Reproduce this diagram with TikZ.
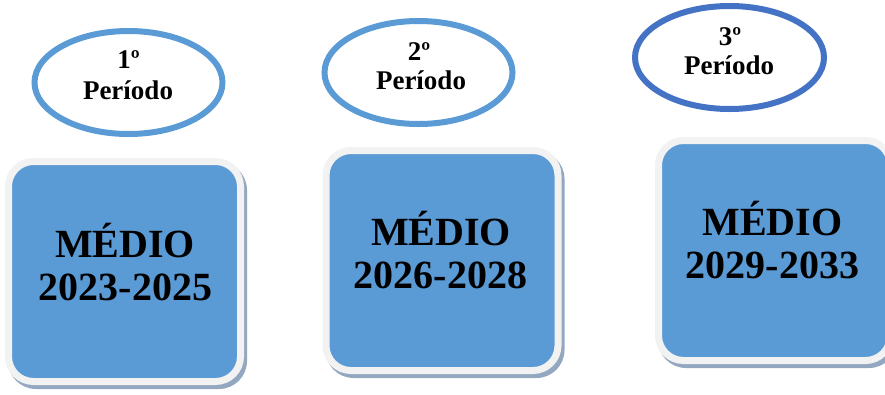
\documentclass[tikz,border=0pt]{standalone}
\usepackage{fontspec}
\setmainfont{Liberation Serif}
\usetikzlibrary{shapes.geometric}
\definecolor{ringA}{HTML}{5B9BD5}
\definecolor{ringB}{HTML}{4472C4}
\definecolor{boxblue}{HTML}{5B9BD5}
\definecolor{boxrim}{HTML}{F2F2F2}
\definecolor{shadowc}{HTML}{93A8C0}
\tikzset{
  ring/.style={ellipse, draw=#1, line width=6pt, fill=white, minimum width=188pt, minimum height=103pt, inner sep=0pt},
  blk/.style={rectangle, rounded corners=25pt, fill=boxblue, draw=boxrim, line width=7pt, minimum width=232pt, minimum height=220pt, inner sep=0pt},
  shd/.style={rectangle, rounded corners=28pt, fill=shadowc, minimum width=239pt, minimum height=227pt, inner sep=0pt},
  lbl/.style={anchor=base, inner sep=0pt, font=\bfseries\fontsize{27}{31}\selectfont},
  big/.style={anchor=base, inner sep=0pt, font=\bfseries\fontsize{40}{44}\selectfont}
}
\begin{document}
\begin{tikzpicture}[x=1pt,y=-1pt]
\useasboundingbox (0,0) rectangle (885,394);
\clip (0,0) rectangle (885,394);
% ellipses
\node[ring=ringA] (e1) at (128.5,82.5) {};
\node[ring=ringA] (e2) at (418.5,72.5) {};
\node[ring=ringB, minimum width=189pt] (e3) at (729.5,57.5) {};
\node[lbl] (n1) at (128.5,68) {1º};
\node[lbl] (p1) at (128,99) {Período};
\node[lbl] (n2) at (419,60) {2º};
\node[lbl] (p2) at (421,89) {Período};
\node[lbl] (n3) at (730,45) {3º};
\node[lbl] (p3) at (729,74) {Período};
% boxes
\node[shd] (s1) at (127.5,275.5) {};
\node[blk] (b1) at (124.5,271.5) {};
\node[shd] (s2) at (445,264.5) {};
\node[blk] (b2) at (442,260.5) {};
\node[shd] (s3) at (777.5,254.5) {};
\node[blk] (b3) at (774.5,250.5) {};
\node[big] (m1) at (125,257) {MÉDIO};
\node[big] (y1) at (125.5,300) {2023-2025};
\node[big] (m2) at (441,245) {MÉDIO};
\node[big] (y2) at (440.5,288) {2026-2028};
\node[big] (m3) at (772.5,235) {MÉDIO};
\node[big] (y3) at (772.5,278) {2029-2033};
\end{tikzpicture}
\end{document}
